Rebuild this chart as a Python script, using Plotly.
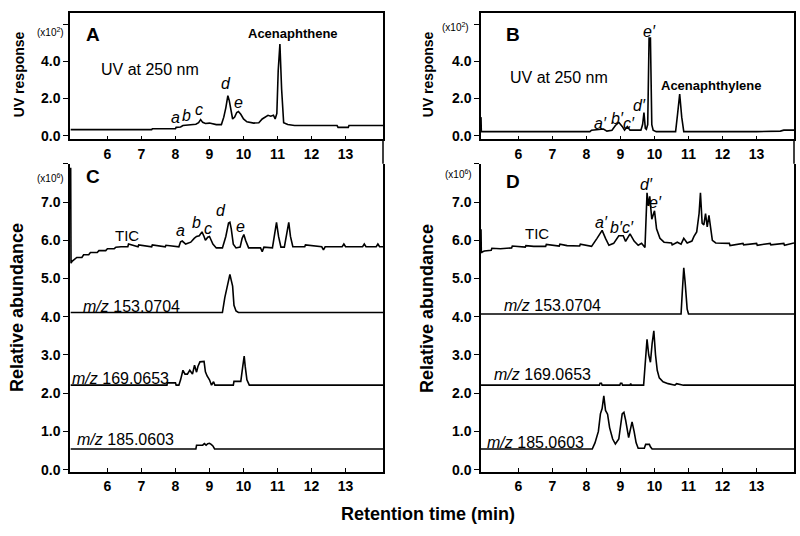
import plotly.graph_objects as go

# ---------------- data ----------------
ticks_t = [6, 7, 8, 9, 10, 11, 12, 13]
uv_ticks = [0, 2, 4, 6]
uv_ticktext = ["0.0", "2.0", "4.0", " "]
ms_ticks = [0, 1, 2, 3, 4, 5, 6, 7, 8]
ms_ticktext = ["0.0", "1.0", "2.0", "3.0", "4.0", "5.0", "6.0", "7.0", " "]

# Panel A: UV at 250 nm (x10^2)
A_t = [4.92, 7.3, 7.32, 8.0, 8.02, 8.15, 8.22, 8.35, 8.45, 8.6, 8.68, 8.74, 8.8, 8.88, 9.0, 9.1,
       9.2, 9.35, 9.42, 9.48, 9.54, 9.58, 9.62, 9.68, 9.74, 9.8, 9.85, 9.92, 10.0, 10.1, 10.3, 10.45,
       10.55, 10.65, 10.72, 10.8, 10.88, 10.93, 10.98, 11.02, 11.07, 11.12, 11.18, 11.3, 11.5, 12.75,
       12.78, 13.08, 13.1, 14.1]
A_v = [0.33, 0.33, 0.38, 0.38, 0.45, 0.47, 0.55, 0.58, 0.6, 0.62, 0.7, 0.87, 0.72, 0.66, 0.68, 0.63,
       0.6, 0.6, 1.0, 1.5, 2.15, 1.9, 1.4, 0.9, 1.0, 1.25, 1.3, 1.15, 0.9, 0.75, 0.68, 0.7,
       0.9, 1.02, 1.1, 1.05, 1.1, 0.9, 1.2, 3.5, 4.93, 2.5, 0.7, 0.6, 0.55, 0.55,
       0.45, 0.45, 0.55, 0.55]

# Panel B: UV at 250 nm (x10^2)
B_t = [4.9, 4.91, 4.95, 8.1, 8.15, 8.4, 8.5, 8.6, 8.75, 8.85, 8.95, 9.05, 9.12, 9.2, 9.28, 9.6,
       9.65, 9.69, 9.73, 9.76, 9.8, 9.84, 9.88, 9.92, 9.96, 10.05, 10.62, 10.68, 10.74, 10.8, 10.86,
       13.0, 13.7, 13.8, 14.1]
B_v = [1.0, 0.22, 0.22, 0.22, 0.3, 0.32, 0.36, 0.25, 0.3, 0.55, 0.72, 0.5, 0.3, 0.49, 0.3, 0.3,
       0.6, 1.24, 0.4, 0.35, 0.6, 5.25, 5.25, 0.6, 0.3, 0.22, 0.22, 1.2, 2.24, 1.0, 0.22,
       0.22, 0.25, 0.3, 0.3]

# Panel C: TIC and extracted ion chromatograms (x10^6)
C_tic_t = [4.92, 4.93, 4.96, 5.05, 5.1, 5.25, 5.3, 5.45, 5.5, 5.7, 5.75, 5.95, 6.0, 6.2, 6.25, 6.4,
           6.6, 6.62, 6.9, 6.92, 7.3, 7.32, 7.7, 7.72, 8.1, 8.15, 8.2, 8.3, 8.38, 8.45, 8.55, 8.62,
           8.7, 8.78, 8.84, 8.88, 8.95, 9.0, 9.05, 9.1, 9.2, 9.38, 9.48, 9.56, 9.6, 9.64, 9.7, 9.78,
           9.9, 9.96, 10.01, 10.06, 10.15, 10.5, 10.55, 10.6, 10.85, 10.92, 10.97, 11.03, 11.1, 11.2,
           11.28, 11.33, 11.38, 11.45, 11.8, 11.82, 12.3, 12.35, 12.4, 12.9, 12.95, 13.0, 13.5, 13.55,
           13.6, 13.9, 13.95, 14.0, 14.1]
C_tic_v = [7.9, 5.4, 5.45, 5.5, 5.55, 5.55, 5.62, 5.62, 5.68, 5.68, 5.73, 5.73, 5.78, 5.78, 5.82, 5.83,
           5.83, 5.9, 5.83, 5.88, 5.83, 5.88, 5.83, 5.87, 5.83, 5.96, 5.98, 5.9, 5.92, 5.95, 6.05, 6.1,
           6.12, 6.22, 6.1, 6.0, 6.08, 6.1, 6.0, 5.9, 5.8, 5.8, 6.1, 6.45, 6.47, 6.3, 5.9, 5.8,
           5.82, 6.05, 6.15, 6.0, 5.8, 5.8, 5.7, 5.82, 5.8, 6.2, 6.47, 6.1, 5.82, 5.82,
           6.2, 6.47, 6.1, 5.83, 5.83, 5.88, 5.83, 5.75, 5.83, 5.83, 5.9, 5.83, 5.83, 5.9,
           5.83, 5.83, 5.9, 5.83, 5.83]
C153_t = [4.92, 9.38, 9.45, 9.5, 9.55, 9.6, 9.64, 9.68, 9.72, 9.78, 9.85, 14.1]
C153_v = [4.11, 4.11, 4.5, 4.72, 4.9, 5.11, 4.95, 4.8, 4.3, 4.15, 4.11, 4.11]
C169_t = [4.92, 7.75, 7.76, 8.0, 8.02, 8.1, 8.15, 8.22, 8.28, 8.35, 8.42, 8.5, 8.56, 8.62, 8.66, 8.72,
          8.84, 8.88, 8.93, 9.0, 9.06, 9.12, 9.16, 9.2, 9.7, 9.72, 9.92, 9.97, 10.02, 10.05, 10.1,
          10.17, 14.1]
C169_v = [2.21, 2.21, 2.27, 2.27, 2.21, 2.21, 2.35, 2.6, 2.5, 2.5, 2.6, 2.5, 2.73, 2.55, 2.7, 2.82,
          2.83, 2.56, 2.45, 2.35, 2.21, 2.3, 2.21, 2.21, 2.21, 2.31, 2.31, 2.65, 2.97, 2.7, 2.35,
          2.21, 2.21]
C185_t = [4.92, 8.6, 8.62, 8.8, 8.85, 8.9, 8.95, 9.0, 9.05, 9.1, 9.15, 14.1]
C185_v = [0.54, 0.54, 0.64, 0.64, 0.68, 0.64, 0.68, 0.69, 0.66, 0.62, 0.54, 0.54]

# Panel D
D_tic_t = [4.9, 4.91, 4.95, 5.0, 5.2, 5.22, 5.47, 5.8, 5.82, 6.2, 6.22, 6.45, 6.8, 6.82, 7.2, 7.22,
           7.43, 7.8, 7.82, 8.0, 8.15, 8.31, 8.46, 8.56, 8.66, 8.8, 8.95, 9.08, 9.15, 9.28, 9.4, 9.52,
           9.62, 9.72, 9.75, 9.78, 9.82, 9.86, 9.92, 10.0, 10.06, 10.16, 10.28, 10.5, 10.52, 10.67,
           10.78, 10.86, 10.96, 11.1, 11.16, 11.24, 11.31, 11.35, 11.4, 11.45, 11.5, 11.55, 11.6,
           11.65, 11.7, 11.8, 12.2, 12.22, 12.6, 12.62, 13.0, 13.02, 13.4, 13.42, 13.8, 13.82, 14.1]
D_tic_v = [6.29, 5.67, 5.7, 5.72, 5.74, 5.79, 5.78, 5.8, 5.85, 5.82, 5.86, 5.84, 5.84, 5.89, 5.85,
           5.9, 5.86, 5.85, 5.9, 5.86, 5.84, 6.05, 6.26, 6.05, 5.87, 5.92, 6.12, 6.12, 5.97, 6.17,
           5.98, 5.87, 5.92, 5.81, 6.5, 7.24, 6.9, 7.15, 6.55, 6.77, 6.3, 6.05, 5.95, 5.93, 5.88,
           5.95, 5.9, 6.05, 5.93, 5.98, 6.1, 6.22, 6.7, 7.24, 6.45, 6.4, 6.7, 6.35, 6.65, 6.3, 6.0,
           5.93, 5.92, 5.86, 5.92, 5.88, 5.92, 5.87, 5.92, 5.88, 5.92, 5.87, 5.93]
D153_t = [4.9, 10.78, 10.82, 10.86, 10.9, 10.96, 11.0, 14.1]
D153_v = [4.07, 4.07, 4.7, 5.28, 4.9, 4.2, 4.07, 4.07]
D169_t = [4.9, 8.38, 8.4, 8.44, 8.46, 8.98, 9.0, 9.04, 9.06, 9.28, 9.3, 9.32, 9.68, 9.72, 9.78, 9.83,
          9.88, 9.93, 9.98, 10.03, 10.08, 10.14, 10.25, 10.4, 10.6, 10.65, 10.8, 10.85, 14.1]
D169_v = [2.21, 2.21, 2.26, 2.26, 2.21, 2.21, 2.26, 2.26, 2.21, 2.21, 2.25, 2.21, 2.21, 2.7, 3.41, 3.0,
          2.81, 3.3, 3.63, 3.0, 2.6, 2.4, 2.3, 2.25, 2.21, 2.25, 2.21, 2.21, 2.21]
D185_t = [4.9, 8.17, 8.25, 8.35, 8.41, 8.46, 8.51, 8.56, 8.62, 8.68, 8.77, 8.85, 8.95, 9.05, 9.1, 9.15,
          9.24, 9.3, 9.34, 9.4, 9.46, 9.52, 9.7, 9.74, 9.85, 9.88, 9.93, 14.1]
D185_v = [0.54, 0.54, 0.7, 1.0, 1.46, 1.6, 1.93, 1.55, 1.45, 1.1, 0.8, 0.67, 0.8, 1.46, 1.5, 1.3,
          0.84, 1.1, 1.25, 1.0, 0.7, 0.56, 0.56, 0.66, 0.66, 0.6, 0.54, 0.54]

# annotations (text, t, value)
A_labels = [("a", 8.01, 0.97), ("b", 8.33, 1.1), ("c", 8.7, 1.42), ("d", 9.48, 2.8), ("e", 9.86, 1.8)]
B_labels = [("a′", 8.4, 0.67), ("b′", 8.91, 0.9), ("c′", 9.25, 0.66), ("d′", 9.56, 1.63), ("e′", 9.85, 5.6)]
C_labels = [("a", 8.14, 6.26), ("b", 8.63, 6.47), ("c", 8.97, 6.32), ("d", 9.34, 6.78), ("e", 9.92, 6.36)]
D_labels = [("a′", 8.45, 6.47), ("b′c′", 9.04, 6.34), ("d′", 9.77, 7.45), ("e′", 10.02, 6.98)]

# ---------------- figure ----------------
W, H = 800, 536
FONT = "Liberation Sans, Arial, Helvetica, sans-serif"


def px(x):
    return x / W


def py(y):
    return 1 - y / H


fig = go.Figure()
line = dict(color="black", width=1.6)

fig.add_trace(go.Scatter(x=A_t, y=A_v, mode="lines", line=line, xaxis="x", yaxis="y"))
fig.add_trace(go.Scatter(x=B_t, y=B_v, mode="lines", line=line, xaxis="x2", yaxis="y2"))
for t, v in [(C_tic_t, C_tic_v), (C153_t, C153_v), (C169_t, C169_v), (C185_t, C185_v)]:
    fig.add_trace(go.Scatter(x=t, y=v, mode="lines", line=line, xaxis="x3", yaxis="y3"))
for t, v in [(D_tic_t, D_tic_v), (D153_t, D153_v), (D169_t, D169_v), (D185_t, D185_v)]:
    fig.add_trace(go.Scatter(x=t, y=v, mode="lines", line=line, xaxis="x4", yaxis="y4"))

tickfont = dict(family=FONT, size=14, color="black")


def xax(dom, anchor, mirror):
    return dict(domain=dom, anchor=anchor, range=[4.9, 14.1], tickmode="array", tickvals=ticks_t,
                ticktext=["<b>%d</b>" % v for v in ticks_t], ticks="inside", ticklen=4, tickwidth=1,
                tickcolor="black", showline=True, linecolor="black", linewidth=1.5, mirror=mirror,
                showgrid=False, zeroline=False, tickfont=tickfont, ticklabelstandoff=1)


def yax(dom, anchor, rng, vals, texts):
    return dict(domain=dom, anchor=anchor, range=rng, tickmode="array", tickvals=vals,
                ticktext=["<b>%s</b>" % s for s in texts], ticks="outside", ticklen=5,
                tickwidth=1, tickcolor="black", showline=True, linecolor="black", linewidth=1.5,
                mirror=True, showgrid=False, zeroline=False, tickfont=tickfont)


left_dom = [px(70), px(383)]
right_dom = [px(481), px(794)]
top_dom = [py(135), py(5)]
bot_dom = [py(476), py(160)]

fig.update_layout(
    width=W, height=H, autosize=False, margin=dict(l=0, r=0, t=0, b=0, pad=0),
    paper_bgcolor="white", plot_bgcolor="white", showlegend=False,
    font=dict(family=FONT, color="black"),
    xaxis=xax(left_dom, "y", True),
    xaxis2=xax(right_dom, "y2", True),
    xaxis3=xax(left_dom, "y3", False),
    xaxis4=xax(right_dom, "y4", False),
    yaxis=yax(top_dom, "x", [-0.2, 6.6], uv_ticks, uv_ticktext),
    yaxis2=yax(top_dom, "x2", [-0.2, 6.6], uv_ticks, uv_ticktext),
    yaxis3=yax(bot_dom, "x3", [-0.05, 8.0], ms_ticks, ms_ticktext),
    yaxis4=yax(bot_dom, "x4", [-0.05, 8.0], ms_ticks, ms_ticktext),
)

# right spine connecting upper and lower panels
for xr in (383, 794):
    fig.add_shape(type="line", xref="paper", yref="paper", x0=px(xr), x1=px(xr), y0=py(135), y1=py(160),
                  line=dict(color="black", width=1.5))

ann = []


def A(text, x, y, size, xref="paper", yref="paper", **kw):
    d = dict(text=text, x=x, y=y, xref=xref, yref=yref, showarrow=False,
             font=dict(family=FONT, size=size, color="black"), xanchor="center", yanchor="middle")
    d.update(kw)
    ann.append(d)


# peak labels
for labs, xr, yr in [(A_labels, "x", "y"), (B_labels, "x2", "y2"), (C_labels, "x3", "y3"), (D_labels, "x4", "y4")]:
    for txt, t, v in labs:
        A("<i>%s</i>" % txt, t, v, 16, xref=xr, yref=yr)

A("<b>Acenaphthene</b>", 11.46, 5.47, 13, xref="x", yref="y")
A("<b>Acenaphthylene</b>", 11.66, 2.68, 13, xref="x2", yref="y2")
A("UV at 250 nm", 7.25, 3.58, 16, xref="x", yref="y")
A("UV at 250 nm", 7.2, 3.15, 16, xref="x2", yref="y2")

A("TIC", 6.57, 6.13, 15, xref="x3", yref="y3")
A("TIC", 6.54, 6.17, 15, xref="x4", yref="y4")
for xr, yr, items in [("x3", "y3", [(153.0704, 6.71, 4.26), (169.0653, 6.39, 2.39), (185.0603, 6.52, 0.78)]),
                      ("x4", "y4", [(153.0704, 7.0, 4.29), (169.0653, 6.72, 2.48), (185.0603, 6.51, 0.7)])]:
    for mz, t, v in items:
        A("<i>m/z</i> %.4f" % mz, t, v, 16, xref=xr, yref=yr)

# panel letters
A("<b>A</b>", px(93), py(27), 19)
A("<b>B</b>", px(513), py(27), 19)
A("<b>C</b>", px(93), py(173), 19)
A("<b>D</b>", px(513), py(178), 19)

# multiplier labels
A("(x10<sup>2</sup>)", px(50), py(25), 10)
A("(x10<sup>2</sup>)", px(456), py(19), 10)
A("(x10<sup>6</sup>)", px(50), py(175), 10)
A("(x10<sup>6</sup>)", px(458), py(170), 10)

# axis titles
A("<b>UV response</b>", px(19), py(68), 14, textangle=-90)
A("<b>UV response</b>", px(428), py(68), 14, textangle=-90)
A("<b>Relative abundance</b>", px(17), py(308), 18, textangle=-90)
A("<b>Relative abundance</b>", px(427), py(308), 18, textangle=-90)
A("<b>Retention time (min)</b>", px(428), py(520), 18)

fig.update_layout(annotations=ann)
fig.write_html("out.html", config={"displayModeBar": False},
               post_script="document.body.style.margin='0';document.body.style.overflow='hidden';")
